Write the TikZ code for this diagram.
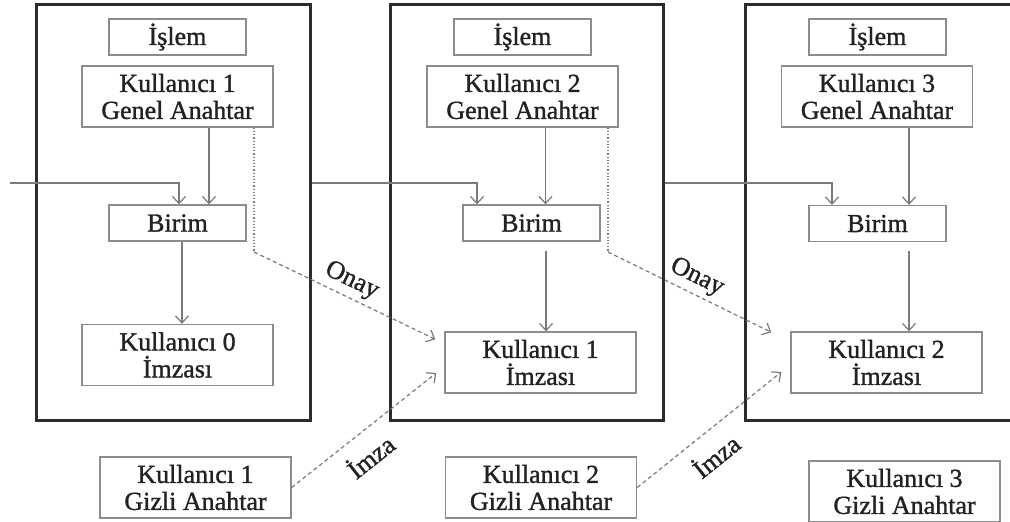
\documentclass[tikz,border=0pt]{standalone}
\usepackage{fontspec}
\setmainfont{Liberation Serif}[RawFeature={embolden=1.2}]
\usetikzlibrary{arrows.meta}
\definecolor{framegray}{HTML}{2B2B2B}
\definecolor{boxgray}{HTML}{8C8C8C}
\definecolor{linkgray}{HTML}{7A7A7A}
\definecolor{textgray}{HTML}{222222}

\begin{document}
\begin{tikzpicture}[x=1pt, y=-1pt, -{Straight Barb[length=7pt,width=13pt]},
        every node/.append style={font=\fontsize{26}{27}\selectfont, text=textgray}]
      \tikzstyle{frame} = [draw=framegray, line width=3pt, inner sep=0pt, minimum height=416pt]
      \tikzstyle{box} = [draw=boxgray, line width=1.4pt, inner sep=0pt, align=center]
      \tikzstyle{small} = [box, minimum width=137pt, minimum height=36pt]
      \tikzstyle{large} = [box, minimum width=191pt, minimum height=61pt]
      \tikzstyle{link} = [draw=linkgray, line width=1.2pt]
      \tikzstyle{guide} = [link, dotted, line width=1.4pt]
      \tikzstyle{proof} = [link, dash pattern=on 4pt off 3pt]
      \useasboundingbox (0,0) rectangle (1010,522);

      % the three frames
      \node (frameA) [frame, minimum width=274pt] at (173,212) {};
      \node (frameB) [frame, minimum width=273pt] at (526.5,212) {};
      \node (frameC) [frame, minimum width=280pt] at (885,212.5) {};

      % first frame
      \node (islemA) [small] at (177.5,37) {İşlem};
      \node (genelA) [large] at (177.5,96.5) {Kullanıcı 1\\Genel Anahtar};
      \node (birimA) [small] at (177.5,223) {Birim};
      \node (imzaA) [large] at (177.5,355) {Kullanıcı 0\\İmzası};
      \node (gizliA) [large] at (195.5,487.5) {Kullanıcı 1\\Gizli Anahtar};

      % second frame
      \node (islemB) [small] at (522.5,37) {İşlem};
      \node (genelB) [large] at (522.5,96.5) {Kullanıcı 2\\Genel Anahtar};
      \node (birimB) [small] at (531.5,223) {Birim};
      \node (imzaB) [large] at (540.5,362.5) {Kullanıcı 1\\İmzası};
      \node (gizliB) [large] at (541,487.5) {Kullanıcı 2\\Gizli Anahtar};

      % third frame
      \node (islemC) [small] at (877.5,37) {İşlem};
      \node (genelC) [large] at (877,96.5) {Kullanıcı 3\\Genel Anahtar};
      \node (birimC) [small] at (877.5,223.5) {Birim};
      \node (imzaC) [large] at (886.5,362.5) {Kullanıcı 2\\İmzası};
      \node (gizliC) [large] at (904.5,491.5) {Kullanıcı 3\\Gizli Anahtar};

      \coordinate (inA) at (10,183);
      \coordinate (turnA) at (254,252);
      \coordinate (turnB) at (608,252);

      % chain of units
      \draw[link] (inA) -| ([xshift=1.5pt]birimA.north);
      \draw[link] (frameA.east |- inA) -| ([xshift=-54.5pt]birimB.north);
      \draw[link] (frameB.east |- inA) -| ([xshift=-45.5pt]birimC.north);

      % inside the frames
      \draw[link] ([xshift=31.5pt]genelA.south) -- ([xshift=31.5pt]genelA.south |- birimA.north);
      \draw[link] ([xshift=4.5pt]birimA.south) -- ([xshift=4.5pt]birimA.south |- imzaA.north);
      \draw[link] ([xshift=23pt]genelB.south) -- ([xshift=23pt]genelB.south |- birimB.north);
      \draw[link] ([xshift=14.5pt,yshift=-9pt]birimB.south) -- ([xshift=14.5pt]birimB.south |- imzaB.north);
      \draw[link] ([xshift=32pt]genelC.south) -- ([xshift=32pt]genelC.south |- birimC.north);
      \draw[link] ([xshift=31.5pt,yshift=-9pt]birimC.south) -- ([xshift=31.5pt]birimC.south |- imzaC.north);

      % approval and signature
      \draw[guide,-] (genelA.south -| turnA) -- (turnA);
      \draw[proof] (turnA) -- node[sloped, above=1pt] {Onay} ([xshift=-9pt,yshift=-8pt]imzaB.north west);
      \draw[guide,-] (genelB.south -| turnB) -- (turnB);
      \draw[proof] (turnB) -- node[sloped, above=1pt] {Onay} ([xshift=-19pt,yshift=-1pt]imzaC.north west);
      \draw[proof] (gizliA.east) -- node[sloped, below=9pt, pos=0.44] {İmza} ([xshift=-8pt,yshift=-10.5pt]imzaB.west);
      \draw[proof] (gizliB.east) -- node[sloped, below=9pt, pos=0.44] {İmza} ([xshift=-9pt,yshift=-9.5pt]imzaC.west);
    \end{tikzpicture}
\end{document}
